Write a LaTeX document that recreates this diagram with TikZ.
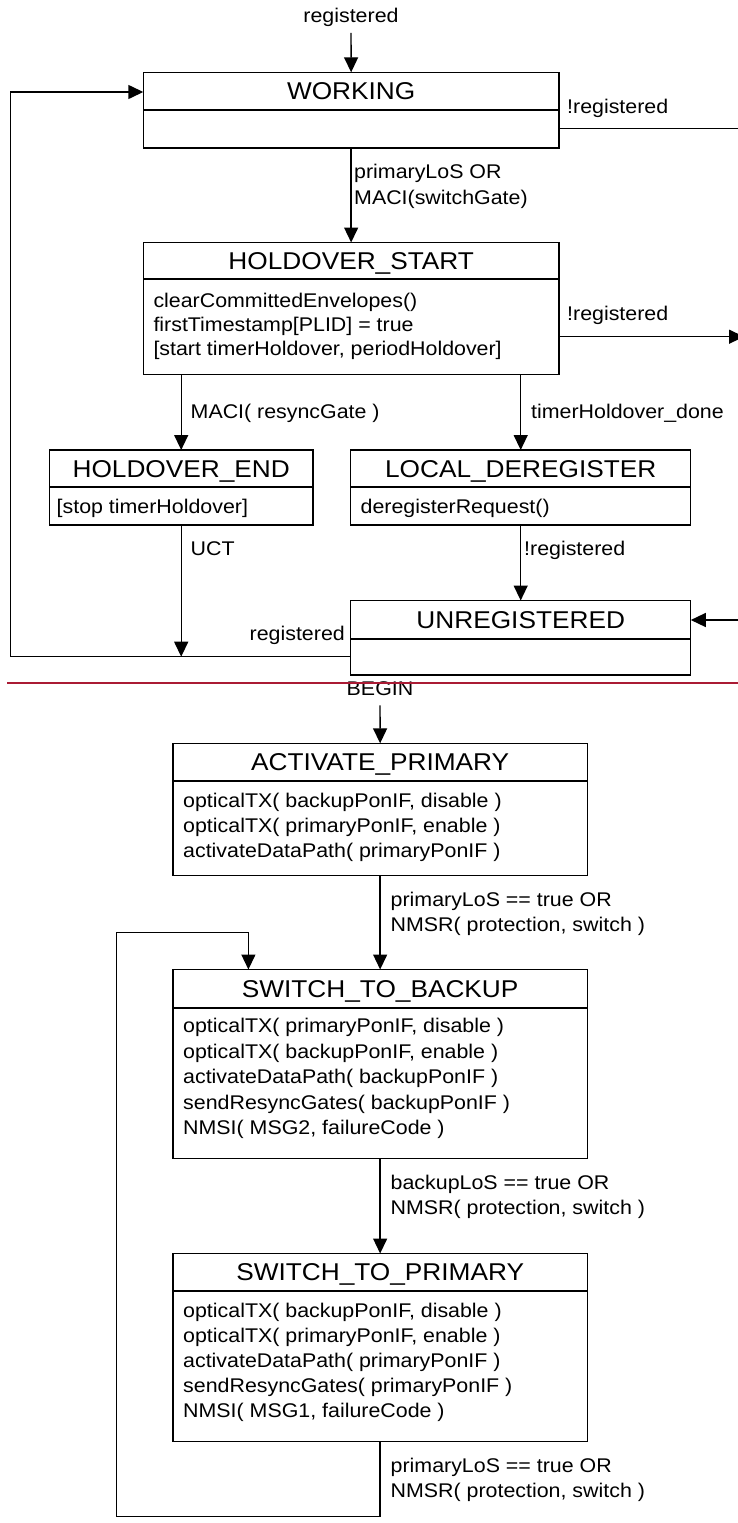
\documentclass[tikz,border=0pt]{standalone}
\usepackage{fontspec}
\setmainfont{Liberation Sans}[FakeStretch=1.08]
\usetikzlibrary{arrows.meta}
\definecolor{sepred}{RGB}{170,27,52}
\newcommand{\bodylines}[2]{\parbox[t]{400pt}{\setlength{\baselineskip}{#1}#2}}
\begin{document}
\begin{tikzpicture}[x=1pt,y=-1pt,
  box/.style={draw, line width=1.3pt, inner sep=0pt, outer sep=0pt, anchor=north west},
  divider/.style={line width=1.8pt},
  titletext/.style={inner sep=0pt, font=\fontsize{24.3}{28}\selectfont, anchor=base},
  bodytext/.style={inner sep=0pt, font=\fontsize{19.8}{24.5}\selectfont, anchor=base west},
  lbl/.style={inner sep=0pt, font=\fontsize{19.8}{24.5}\selectfont},
  conn/.style={line width=1.4pt},
  arr/.style={conn, -{Triangle[length=15pt,width=14pt]}},
]
\useasboundingbox (0,0) rectangle (738,1523);

% ---------- upper diagram: boxes ----------
\node[box, minimum width=415.7pt, minimum height=75.7pt] (working) at (143.3,72.3) {};
\draw[divider] ([yshift=-37.7pt]working.north west) -- ([yshift=-37.7pt]working.north east);
\node[titletext] (tworking) at (351.2,99.7) {WORKING};

\node[box, minimum width=415.7pt, minimum height=131.8pt] (hstart) at (143.3,242.5) {};
\draw[divider] ([yshift=-36.5pt]hstart.north west) -- ([yshift=-36.5pt]hstart.north east);
\node[titletext] (thstart) at (351.2,269.3) {HOLDOVER\_START};
\node[bodytext] (bhstart) at (153.3,307) {\bodylines{24.3pt}{clearCommittedEnvelopes()\\firstTimestamp[PLID] = true\\{}[start timerHoldover, periodHoldover]}};

\node[box, minimum width=263.6pt, minimum height=75pt] (hend) at (49.4,450) {};
\draw[divider] ([yshift=-37.3pt]hend.north west) -- ([yshift=-37.3pt]hend.north east);
\node[titletext] (thend) at (181.2,477.3) {HOLDOVER\_END};
\node[bodytext] (bhend) at (56.5,513.7) {[stop timerHoldover]};

\node[box, minimum width=340.2pt, minimum height=75pt] (ldereg) at (350.6,450) {};
\draw[divider] ([yshift=-37.3pt]ldereg.north west) -- ([yshift=-37.3pt]ldereg.north east);
\node[titletext] (tldereg) at (520.7,477.3) {LOCAL\_DEREGISTER};
\node[bodytext] (bldereg) at (360.5,513.7) {deregisterRequest()};

\node[box, minimum width=340.2pt, minimum height=74.5pt] (unreg) at (350.6,600.5) {};
\draw[divider] ([yshift=-38.5pt]unreg.north west) -- ([yshift=-38.5pt]unreg.north east);
\node[titletext] (tunreg) at (520.7,628.7) {UNREGISTERED};

% ---------- upper diagram: labels ----------
\node[lbl, anchor=base] (lreg) at (351,22) {registered};
\node[lbl, anchor=base west] (lnr1) at (567,113) {!registered};
\node[lbl, anchor=base west] (lpl) at (354,178) {\bodylines{26.2pt}{primaryLoS OR\\MACI(switchGate)}};
\node[lbl, anchor=base west] (lnr2) at (567,320.3) {!registered};
\node[lbl, anchor=base west] (lmaci) at (190.5,418) {MACI( resyncGate )};
\node[lbl, anchor=base west] (ltimer) at (531,418) {timerHoldover\_done};
\node[lbl, anchor=base west] (luct) at (190.5,555.6) {UCT};
\node[lbl, anchor=base west] (lnr3) at (524,555) {!registered};
\node[lbl, anchor=base east] (lreg2) at (345,640.5) {registered};

% ---------- upper diagram: connectors ----------
\coordinate (wL) at (143.3,92);
\coordinate (uL) at (350.6,656.7);
\coordinate (lpA) at (10.5,656.7);
\coordinate (wRx) at (740,128.3);
\coordinate (hsR) at (744,336.7);
\coordinate (uR) at (740,620);

\draw[arr] ([yshift=-6.5pt]lreg.south) -- (working.north);
\draw[arr] (working.south) -- (hstart.north);
\draw[arr] (hend.north |- hstart.south) -- (hend.north);
\draw[arr] (ldereg.north |- hstart.south) -- (ldereg.north);
\draw[arr] (ldereg.south) -- (unreg.north);
\draw[arr] (hend.south) -- (hend.south |- uL);
\draw[arr] (uL) -- (lpA) |- (wL);
\draw[conn] (working.east |- wRx) -- (wRx);
\draw[arr] (hstart.east |- hsR) -- (hsR);
\draw[arr] (uR) -- (unreg.east |- uR);

% ---------- separator ----------
\node[lbl, anchor=base] (begin) at (380,695) {BEGIN};
\coordinate (redL) at (7,683);
\coordinate (redR) at (738,683);
\draw[sepred, line width=2pt] (redL) -- (redR);

% ---------- lower diagram: boxes ----------
\node[box, minimum width=414.3pt, minimum height=132.4pt] (act) at (173,743.3) {};
\draw[divider] ([yshift=-37.7pt]act.north west) -- ([yshift=-37.7pt]act.north east);
\node[titletext] (tact) at (380.15,770.7) {ACTIVATE\_PRIMARY};
\node[bodytext] (bact) at (183,807) {\bodylines{25pt}{opticalTX( backupPonIF, disable )\\opticalTX( primaryPonIF, enable )\\activateDataPath( primaryPonIF )}};

\node[box, minimum width=414.3pt, minimum height=188.8pt] (stb) at (173,969.5) {};
\draw[divider] ([yshift=-38.5pt]stb.north west) -- ([yshift=-38.5pt]stb.north east);
\node[titletext] (tstb) at (380.15,997.3) {SWITCH\_TO\_BACKUP};
\node[bodytext] (bstb) at (183,1032.8) {\bodylines{25.5pt}{opticalTX( primaryPonIF, disable )\\opticalTX( backupPonIF, enable )\\activateDataPath( backupPonIF )\\sendResyncGates( backupPonIF )\\NMSI( MSG2, failureCode )}};

\node[box, minimum width=414.3pt, minimum height=188.2pt] (stp) at (173,1253.5) {};
\draw[divider] ([yshift=-37.5pt]stp.north west) -- ([yshift=-37.5pt]stp.north east);
\node[titletext] (tstp) at (380.15,1280.3) {SWITCH\_TO\_PRIMARY};
\node[bodytext] (bstp) at (183,1317) {\bodylines{25.2pt}{opticalTX( backupPonIF, disable )\\opticalTX( primaryPonIF, enable )\\activateDataPath( primaryPonIF )\\sendResyncGates( primaryPonIF )\\NMSI( MSG1, failureCode )}};

% ---------- lower diagram: labels ----------
\node[lbl, anchor=base west] (l1) at (390.5,906.3) {\bodylines{24.7pt}{primaryLoS == true OR\\NMSR( protection, switch )}};
\node[lbl, anchor=base west] (l2) at (390.5,1189.7) {\bodylines{24.6pt}{backupLoS == true OR\\NMSR( protection, switch )}};
\node[lbl, anchor=base west] (l3) at (390.5,1472) {\bodylines{25pt}{primaryLoS == true OR\\NMSR( protection, switch )}};

% ---------- lower diagram: connectors ----------
\coordinate (lpB) at (116.7,1516.7);
\coordinate (lpT) at (248.4,932.3);
\draw[arr] ([yshift=-10pt]begin.south) -- (act.north);
\draw[arr] (act.south) -- (stb.north);
\draw[arr] (stb.south) -- (stp.north);
\draw[arr] (stp.south) |- (lpB) |- (lpT) -- (lpT |- stb.north);
\end{tikzpicture}
\end{document}
